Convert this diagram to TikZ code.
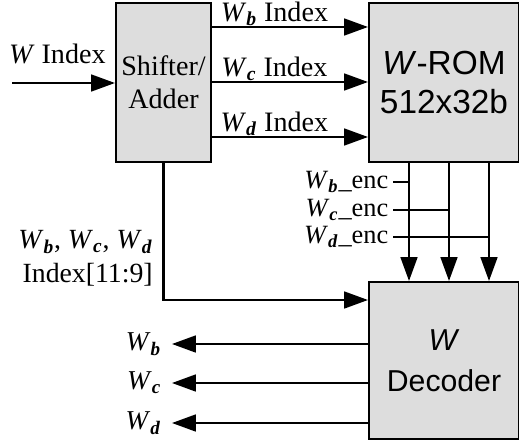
\documentclass[tikz,border=0pt]{standalone}
\usepackage{xcolor}
\usepackage{fontspec}
\setmainfont{Liberation Serif}
\setsansfont{Liberation Sans}
\usetikzlibrary{arrows.meta}
\definecolor{boxgray}{RGB}{221,221,221}
\newcommand{\wsub}[1]{\textit{W}\textsubscript{\textbf{\textit{#1}}}}

\begin{document}
\begin{tikzpicture}[x=0.02cm,y=-0.02cm]
			\tikzstyle{block} = [draw, fill=boxgray, line width=1.2pt, inner sep=0pt, align=center]
			\tikzstyle{sig} = [anchor=base, inner sep=0pt, font=\fontsize{16}{19}\selectfont]
			\tikzstyle{enclbl} = [anchor=east, inner sep=2.5pt, font=\fontsize{15}{18}\selectfont]
			\tikzstyle{outlbl} = [anchor=east, inner sep=6pt, font=\fontsize{15.5}{18}\selectfont]
			\tikzset{wire/.style = {line width=1.2pt}}
			\tikzset{edge/.style = {wire, -{Triangle[length=13.6pt,width=9.6pt]}}}
			
			\useasboundingbox (0,0) rectangle (519,442);
			
			\node[block, minimum width=1.9cm, minimum height=3.18cm, font=\fontsize{16}{18.7}\selectfont](shifter) at (163.5,82.5) {Shifter/\\Adder};
			\node[block, minimum width=3cm, minimum height=3.19cm, font=\fontsize{19}{22.5}\sffamily](rom) at (444,82.3) {\textit{W}-ROM\\512x32b};
			\node[block, minimum width=3cm, minimum height=3.14cm, font=\fontsize{17.2}{23.5}\sffamily](decoder) at (444,360.5) {\textit{W}\\Decoder};
			
			\coordinate (win) at (12,83);
			\draw[edge](win) -- node[sig, pos=0.44, yshift=11pt](winlbl){\textit{W} Index} (shifter.west |- win);
			
			\coordinate (rowb) at (0,27);
			\coordinate (rowc) at (0,82);
			\coordinate (rowd) at (0,137);
			\draw[edge](shifter.east |- rowb) -- node[sig, pos=0.4, yshift=3.3pt](ib){\wsub{b} Index} (rom.west |- rowb);
			\draw[edge](shifter.east |- rowc) -- node[sig, pos=0.4, yshift=3.3pt](ic){\wsub{c} Index} (rom.west |- rowc);
			\draw[edge](shifter.east |- rowd) -- node[sig, pos=0.4, yshift=3.3pt](id){\wsub{d} Index} (rom.west |- rowd);
			
			\coordinate (colb) at (409,0);
			\coordinate (colc) at (449,0);
			\coordinate (cold) at (489,0);
			\draw[edge](rom.south -| colb) to (decoder.north -| colb);
			\draw[edge](rom.south -| colc) to (decoder.north -| colc);
			\draw[edge](rom.south -| cold) to (decoder.north -| cold);
			
			\coordinate (encb) at (393,182);
			\coordinate (encc) at (393,210);
			\coordinate (encd) at (393,237);
			\node[enclbl](lencb) at (encb) {\wsub{b}\_enc};
			\node[enclbl](lencc) at (encc) {\wsub{c}\_enc};
			\node[enclbl](lencd) at (encd) {\wsub{d}\_enc};
			\draw[wire](encb) to (encb -| colb);
			\draw[wire](encc) to (encc -| colc);
			\draw[wire](encd) to (encd -| cold);
			
			\coordinate (idx) at (0,300);
			\draw[edge](shifter.south) |- (decoder.west |- idx);
			\node[anchor=east, align=right, inner sep=0pt, font=\fontsize{15.8}{19.3}\selectfont](idxlbl) at (153,258) {\wsub{b}, \wsub{c}, \wsub{d}\\Index[11:9]};
			
			\node[outlbl](outb) at (172,344) {\wsub{b}};
			\node[outlbl](outc) at (172,383) {\wsub{c}};
			\node[outlbl](outd) at (172,423) {\wsub{d}};
			\draw[edge](decoder.west |- outb) to (outb.east);
			\draw[edge](decoder.west |- outc) to (outc.east);
			\draw[edge](decoder.west |- outd) to (outd.east);
			
			\end{tikzpicture}
\end{document}
